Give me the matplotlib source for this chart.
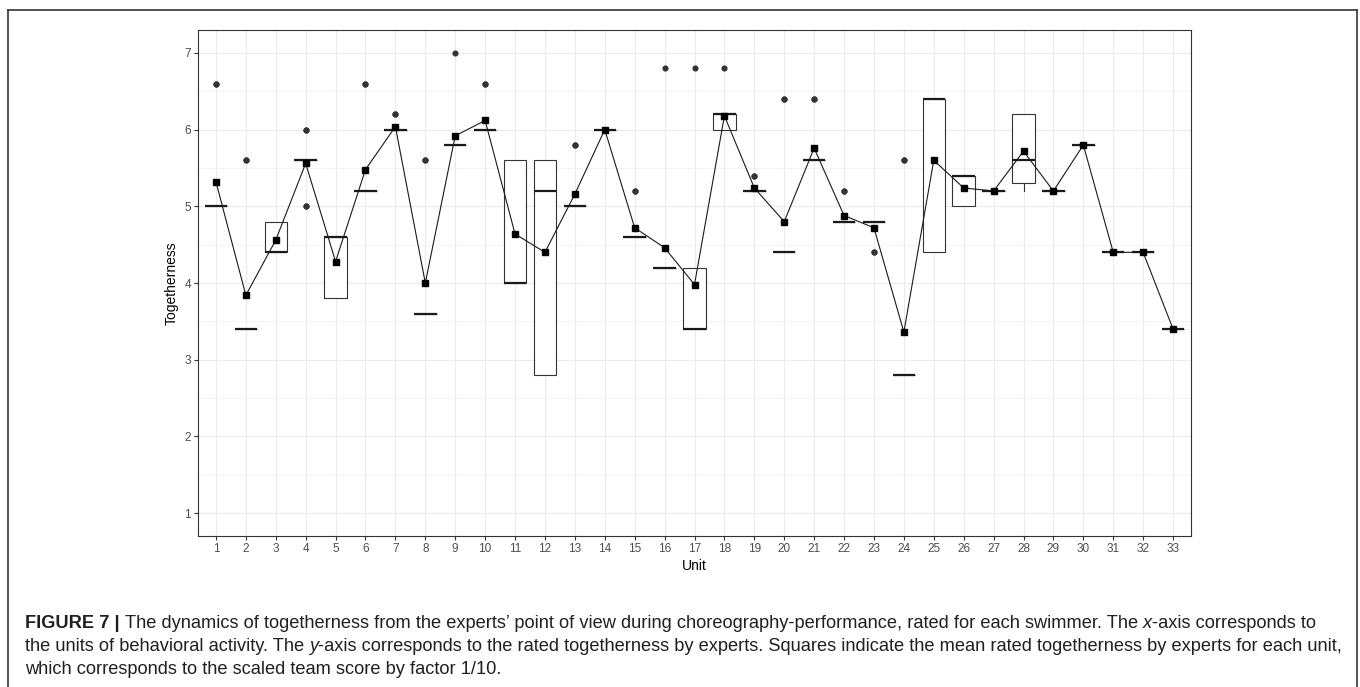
import numpy as np
import matplotlib
matplotlib.use("Agg")
import matplotlib.pyplot as plt
from matplotlib.lines import Line2D

plt.rcParams['font.family'] = ['Liberation Sans', 'DejaVu Sans']

units = list(range(1, 34))

# ratings given to each swimmer (10 per unit)
ratings = [
    [5.0, 5.0, 5.0, 5.0, 5.0, 5.0, 5.0, 5.0, 6.6, 6.6],
    [3.4, 3.4, 3.4, 3.4, 3.4, 3.4, 3.4, 3.4, 5.6, 5.6],
    [4.4, 4.4, 4.4, 4.4, 4.4, 4.4, 4.8, 4.8, 4.8, 4.8],
    [5.0, 5.0, 5.6, 5.6, 5.6, 5.6, 5.6, 5.6, 6.0, 6.0],
    [3.8, 3.8, 3.8, 3.8, 4.6, 4.6, 4.6, 4.6, 4.6, 4.6],
    [5.2, 5.2, 5.2, 5.2, 5.2, 5.2, 5.2, 5.2, 6.6, 6.6],
    [6.0, 6.0, 6.0, 6.0, 6.0, 6.0, 6.0, 6.0, 6.2, 6.2],
    [3.6, 3.6, 3.6, 3.6, 3.6, 3.6, 3.6, 3.6, 5.6, 5.6],
    [5.8, 5.8, 5.8, 5.8, 5.8, 5.8, 5.8, 5.8, 5.8, 7.0],
    [6.0, 6.0, 6.0, 6.0, 6.0, 6.0, 6.0, 6.0, 6.6, 6.6],
    [4.0, 4.0, 4.0, 4.0, 4.0, 4.0, 5.6, 5.6, 5.6, 5.6],
    [2.8, 2.8, 2.8, 2.8, 5.2, 5.2, 5.6, 5.6, 5.6, 5.6],
    [5.0, 5.0, 5.0, 5.0, 5.0, 5.0, 5.0, 5.0, 5.8, 5.8],
    [6.0, 6.0, 6.0, 6.0, 6.0, 6.0, 6.0, 6.0, 6.0, 6.0],
    [4.6, 4.6, 4.6, 4.6, 4.6, 4.6, 4.6, 4.6, 5.2, 5.2],
    [4.2, 4.2, 4.2, 4.2, 4.2, 4.2, 4.2, 4.2, 4.2, 6.8],
    [3.4, 3.4, 3.4, 3.4, 3.4, 3.4, 4.2, 4.2, 4.2, 6.8],
    [6.0, 6.0, 6.0, 6.0, 6.2, 6.2, 6.2, 6.2, 6.2, 6.8],
    [5.2, 5.2, 5.2, 5.2, 5.2, 5.2, 5.2, 5.2, 5.4, 5.4],
    [4.4, 4.4, 4.4, 4.4, 4.4, 4.4, 4.4, 4.4, 6.4, 6.4],
    [5.6, 5.6, 5.6, 5.6, 5.6, 5.6, 5.6, 5.6, 6.4, 6.4],
    [4.8, 4.8, 4.8, 4.8, 4.8, 4.8, 4.8, 4.8, 5.2, 5.2],
    [4.4, 4.4, 4.8, 4.8, 4.8, 4.8, 4.8, 4.8, 4.8, 4.8],
    [2.8, 2.8, 2.8, 2.8, 2.8, 2.8, 2.8, 2.8, 5.6, 5.6],
    [4.4, 4.4, 4.4, 4.4, 6.4, 6.4, 6.4, 6.4, 6.4, 6.4],
    [5.0, 5.0, 5.0, 5.0, 5.4, 5.4, 5.4, 5.4, 5.4, 5.4],
    [5.2, 5.2, 5.2, 5.2, 5.2, 5.2, 5.2, 5.2, 5.2, 5.2],
    [5.2, 5.2, 5.2, 5.6, 5.6, 5.6, 6.2, 6.2, 6.2, 6.2],
    [5.2, 5.2, 5.2, 5.2, 5.2, 5.2, 5.2, 5.2, 5.2, 5.2],
    [5.8, 5.8, 5.8, 5.8, 5.8, 5.8, 5.8, 5.8, 5.8, 5.8],
    [4.4, 4.4, 4.4, 4.4, 4.4, 4.4, 4.4, 4.4, 4.4, 4.4],
    [4.4, 4.4, 4.4, 4.4, 4.4, 4.4, 4.4, 4.4, 4.4, 4.4],
    [3.4, 3.4, 3.4, 3.4, 3.4, 3.4, 3.4, 3.4, 3.4, 3.4],
]

means = [np.mean(r) for r in ratings]

W, H = 1360, 687
fig = plt.figure(figsize=(W / 100, H / 100), dpi=100)
ax = fig.add_axes([198 / W, 1 - 536 / H, (1191 - 198) / W, (536 - 30) / H])

dark = "#333333"
ax.boxplot(ratings, positions=units, widths=0.75, showcaps=False, patch_artist=True,
           boxprops=dict(facecolor="white", edgecolor=dark, linewidth=0.8),
           medianprops=dict(color="#1a1a1a", linewidth=1.6),
           whiskerprops=dict(color=dark, linewidth=0.8),
           flierprops=dict(marker="o", markerfacecolor=dark, markeredgecolor=dark,
                           markersize=3.4),
           zorder=2)
ax.plot(units, means, color="#1a1a1a", lw=0.8, zorder=4)
ax.plot(units, means, ls="none", marker="s", ms=4, color="black", zorder=5)

ax.set_xlim(0.4, 33.6)
ax.set_ylim(0.7, 7.3)
ax.set_xticks(units)
ax.set_xticklabels([str(u) for u in units])
ax.set_yticks([1, 2, 3, 4, 5, 6, 7])
ax.set_yticks([1.5, 2.5, 3.5, 4.5, 5.5, 6.5], minor=True)
ax.tick_params(axis="both", which="major", length=3, width=0.8, color=dark,
               labelsize=8.5, labelcolor="#4D4D4D", pad=2)
ax.tick_params(axis="y", which="minor", length=0)
ax.grid(True, which="major", color="#EBEBEB", lw=0.8, zorder=0)
ax.grid(True, which="minor", axis="y", color="#F2F2F2", lw=0.6, zorder=0)
ax.set_axisbelow(True)
for s in ax.spines.values():
    s.set_color(dark)
    s.set_linewidth(0.8)

ax.set_xlabel("Unit", fontsize=10, color="black", labelpad=3)
ax.set_ylabel("Togetherness", fontsize=10, color="black", labelpad=4)

# frame around figure and caption
frame = dict(color="#333333", lw=1.2, transform=fig.transFigure)
fig.add_artist(Line2D([8 / W, 1357 / W], [1 - 10 / H, 1 - 10 / H], **frame))
fig.add_artist(Line2D([8 / W, 8 / W], [1 - 10 / H, 0], **frame))
fig.add_artist(Line2D([1357 / W, 1357 / W], [1 - 10 / H, 0], **frame))

# caption, written run by run
renderer = fig.canvas.get_renderer()
cap = dict(fontsize=13.15, color="#231F20", va="baseline", ha="left")
probe1 = fig.text(0, 0, "aa", **cap)
probe2 = fig.text(0, 0, "a a", **cap)
space_w = probe2.get_window_extent(renderer).width - probe1.get_window_extent(renderer).width
probe1.remove()
probe2.remove()

lines = [
    (628, [("FIGURE 7 |", "bold", "normal"),
           (" The dynamics of togetherness from the experts\u2019 point of view during "
            "choreography-performance, rated for each swimmer. The", "normal", "normal"),
           (" x", "normal", "italic"),
           ("-axis corresponds to", "normal", "normal")]),
    (651, [("the units of behavioral activity. The", "normal", "normal"),
           (" y", "normal", "italic"),
           ("-axis corresponds to the rated togetherness by experts. Squares indicate the "
            "mean rated togetherness by experts for each unit,", "normal", "normal")]),
    (674, [("which corresponds to the scaled team score by factor 1/10.", "normal", "normal")]),
]
for y, parts in lines:
    x = 25
    for txt, weight, style in parts:
        if txt.startswith(" "):
            x += space_w
            txt = txt[1:]
        t = fig.text(x / W, 1 - y / H, txt, fontweight=weight, fontstyle=style, **cap)
        x += t.get_window_extent(renderer).width

fig.savefig("out.png", dpi=100)
